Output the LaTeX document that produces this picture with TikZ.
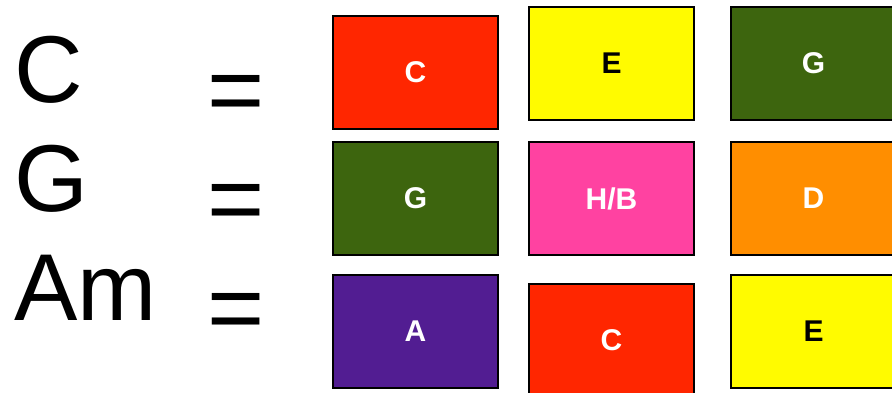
\documentclass[tikz,border=0pt]{standalone}
\usepackage{fontspec}
\setmainfont{Liberation Sans}
\definecolor{cred}{RGB}{255,38,0}
\definecolor{cyel}{RGB}{255,251,0}
\definecolor{cgrn}{RGB}{61,101,14}
\definecolor{cpnk}{RGB}{255,66,161}
\definecolor{corg}{RGB}{255,142,0}
\definecolor{cprp}{RGB}{82,29,146}
\begin{document}
\begin{tikzpicture}[x=1pt,y=-1pt,
  note/.style={draw=black,line width=2pt,minimum width=165pt,minimum height=113pt,inner sep=0pt,
    font=\fontsize{30}{32}\selectfont\bfseries,text=white,text depth=0pt},
  dark/.style={note,text=black},
  chord/.style={anchor=base west,inner sep=0pt,font=\fontsize{95}{100}\selectfont},
  eqs/.style={anchor=base west,inner sep=0pt,font=\fontsize{98}{100}\selectfont}]
\useasboundingbox (0,0) rectangle (892,392);
\clip (0,0) rectangle (892,392);
\node[chord] (lc) at (14,102) {C};
\node[chord] (lg) at (14,211) {G};
\node[chord] (la) at (14,320) {Am};
\node[eqs] (e1) at (207,123) {=};
\node[eqs] (e2) at (207,232) {=};
\node[eqs] (e3) at (207,341) {=};
\node[note,fill=cred] (n11) at (415.5,72) {C};
\node[dark,fill=cyel] (n12) at (611.5,63.5) {E};
\node[note,fill=cgrn] (n13) at (813.5,63.5) {G};
\node[note,fill=cgrn] (n21) at (415.5,198.5) {G};
\node[note,fill=cpnk] (n22) at (611.5,198.5) {H/B};
\node[note,fill=corg] (n23) at (813.5,198.5) {D};
\node[note,fill=cprp] (n31) at (415.5,331.5) {A};
\node[note,fill=cred] (n32) at (611.5,340.5) {C};
\node[dark,fill=cyel] (n33) at (813.5,331.5) {E};
\end{tikzpicture}
\end{document}
